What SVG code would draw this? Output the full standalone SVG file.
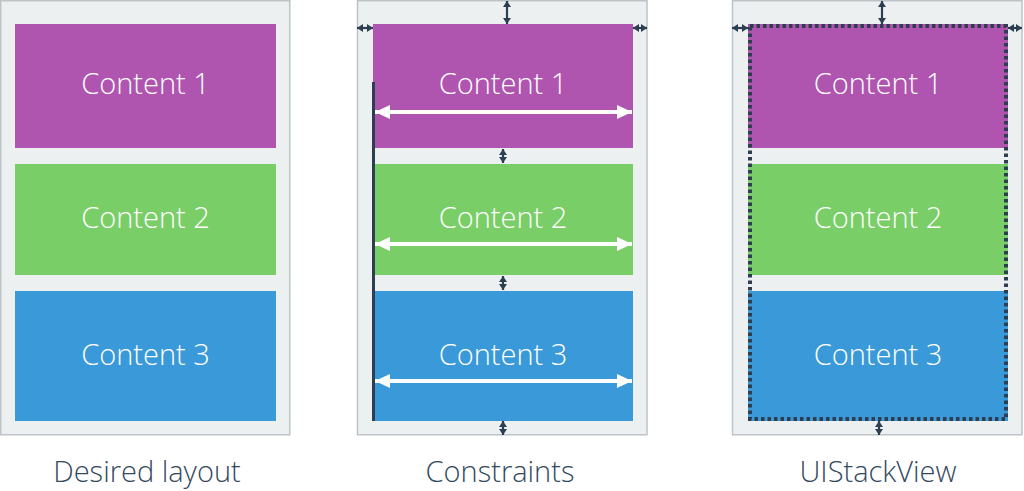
<svg xmlns="http://www.w3.org/2000/svg" width="1024" height="491" viewBox="0 0 1024 491">
<style>
.frame{fill:#ECF0F1;stroke:#BDC3C7;stroke-width:1.5}
.c1{fill:#AF55AF}.c2{fill:#7ACE68}.c3{fill:#3A99D8}
.ct{font-family:"Open Sans","Liberation Sans",sans-serif;font-weight:300;font-size:29px;fill:#FFFFFF;text-anchor:middle}
.lb{font-family:"Open Sans","Liberation Sans",sans-serif;font-weight:300;font-size:29px;fill:#34495E;text-anchor:middle}
.sa{stroke:#2C3E50;stroke-width:2.2;fill:none;marker-start:url(#da);marker-end:url(#da)}
.wa{stroke:#FFFFFF;stroke-width:4;fill:none;marker-start:url(#wa);marker-end:url(#wa)}
.dash{fill:none;stroke:#2C3E50;stroke-width:4;stroke-dasharray:3.5 3}
</style>
<defs>
<marker id="da" viewBox="0 0 6 8" refX="6" refY="4" markerWidth="6" markerHeight="8" orient="auto-start-reverse" markerUnits="userSpaceOnUse"><path d="M0,0 L6,4 L0,8 Z" fill="#2C3E50"/></marker>
<marker id="wa" viewBox="0 0 15 14" refX="15" refY="7" markerWidth="15" markerHeight="14" orient="auto-start-reverse" markerUnits="userSpaceOnUse"><path d="M0,0 L15,7 L0,14 Z" fill="#FFFFFF"/></marker>
</defs>
<g id="panel-desired">
<rect class="frame" x="0.75" y="0.75" width="289" height="434"/>
<g id="d1"><rect class="c1" x="15" y="24" width="261" height="124"/><text class="ct" x="145.5" y="94">Content 1</text></g>
<g id="d2"><rect class="c2" x="15" y="164" width="261" height="111"/><text class="ct" x="145.5" y="228">Content 2</text></g>
<g id="d3"><rect class="c3" x="15" y="291" width="261" height="130"/><text class="ct" x="145.5" y="365">Content 3</text></g>
<text class="lb" x="147" y="482">Desired layout</text>
</g>
<g id="panel-constraints">
<rect class="frame" x="357.5" y="0.75" width="289.5" height="434"/>
<g id="m1"><rect class="c1" x="373" y="24" width="260" height="124"/><text class="ct" x="503" y="94">Content 1</text></g>
<g id="m2"><rect class="c2" x="373" y="164" width="260" height="111"/><text class="ct" x="503" y="228">Content 2</text></g>
<g id="m3"><rect class="c3" x="373" y="291" width="260" height="130"/><text class="ct" x="503" y="365">Content 3</text></g>
<rect x="372" y="82" width="3" height="339" fill="#2C3E50"/>
<text class="lb" x="500" y="482">Constraints</text>
</g>
<g id="panel-stack">
<rect class="frame" x="732.5" y="0.75" width="289.5" height="434"/>
<g id="s1"><rect class="c1" x="748" y="24" width="260" height="124"/><text class="ct" x="878" y="94">Content 1</text></g>
<g id="s2"><rect class="c2" x="748" y="164" width="260" height="111"/><text class="ct" x="878" y="228">Content 2</text></g>
<g id="s3"><rect class="c3" x="748" y="291" width="260" height="130"/><text class="ct" x="878" y="365">Content 3</text></g>
<rect class="dash" x="750" y="26" width="256" height="393"/>
<text class="lb" x="878" y="482">UIStackView</text>
</g>
<g id="connectors">
<line class="wa" x1="375" y1="112" x2="632" y2="112"/>
<line class="wa" x1="375" y1="244" x2="632" y2="244"/>
<line class="wa" x1="375" y1="381" x2="632" y2="381"/>
<line class="sa" x1="507" y1="1" x2="507" y2="24"/>
<line class="sa" x1="357" y1="28" x2="373" y2="28"/>
<line class="sa" x1="633" y1="28" x2="647" y2="28"/>
<line class="sa" x1="503" y1="149" x2="503" y2="163"/>
<line class="sa" x1="503" y1="276" x2="503" y2="290"/>
<line class="sa" x1="503" y1="421" x2="503" y2="435"/>
<line class="sa" x1="882" y1="1" x2="882" y2="24"/>
<line class="sa" x1="732" y1="28" x2="748" y2="28"/>
<line class="sa" x1="1008" y1="28" x2="1022" y2="28"/>
<line class="sa" x1="879" y1="421" x2="879" y2="435"/>
</g>
</svg>
